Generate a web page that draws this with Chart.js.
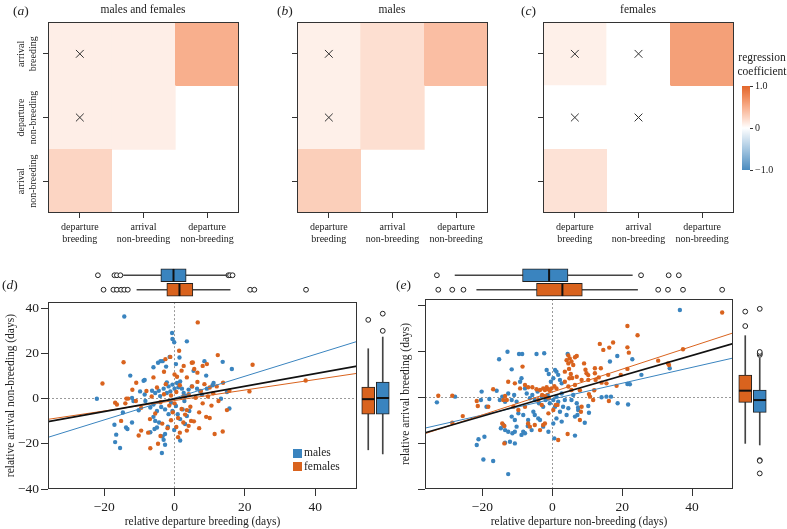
<!DOCTYPE html>
<html>
<head>
<meta charset="utf-8">
<script src="https://cdn.jsdelivr.net/npm/chart.js@4.4.1/dist/chart.umd.min.js"></script>
<style>
  body { margin: 0; background: #fff; }
  #fig { position: relative; width: 787px; height: 529px; overflow: hidden; font-family: "Liberation Serif", "DejaVu Serif", serif; color: #222; }
  #fig canvas { position: absolute; }
  .t { position: absolute; white-space: nowrap; line-height: 1; font-size: 11.5px; transform: translate(-50%, -50%); }
  .p { position: absolute; white-space: nowrap; line-height: 1; font-size: 13.5px; transform: translateY(-50%); }
  .sw { position: absolute; width: 9px; height: 9px; }
</style>
</head>
<body>
<div id="fig">
  <canvas id="heatA" width="243" height="250" style="left:0;top:0"></canvas>
  <canvas id="heatB" width="243" height="250" style="left:249px;top:0"></canvas>
  <canvas id="heatC" width="243" height="250" style="left:495px;top:0"></canvas>
  <canvas id="cbar" width="52" height="100" style="left:735px;top:78px"></canvas>
  <canvas id="scatD" width="362" height="237" style="left:0;top:292px"></canvas>
  <canvas id="scatE" width="339" height="237" style="left:399px;top:292px"></canvas>
  <canvas id="topD" width="309" height="29" style="left:48px;top:268px"></canvas>
  <canvas id="topE" width="308" height="29" style="left:425px;top:268px"></canvas>
  <canvas id="sideD" width="29" height="190" style="left:361px;top:299px"></canvas>
  <canvas id="sideE" width="29" height="190" style="left:738px;top:299px"></canvas>

  <div class="p" style="left:13px;top:11px">(<i>a</i>)</div>
  <div class="t" style="left:143px;top:10px">males and females</div>
  <div class="p" style="left:277px;top:11px">(<i>b</i>)</div>
  <div class="t" style="left:392px;top:10px">males</div>
  <div class="p" style="left:521px;top:11px">(<i>c</i>)</div>
  <div class="t" style="left:638px;top:10px">females</div>
  <div class="t" style="left:762px;top:58px">regression</div>
  <div class="t" style="left:762px;top:72px">coefficient</div>
  <div class="p" style="left:2px;top:285px">(<i>d</i>)</div>
  <div class="p" style="left:396px;top:285px">(<i>e</i>)</div>

  <div class="sw" style="left:293px;top:449px;background:#3a84bf"></div>
  <div class="p" style="left:304px;top:453px;font-size:11.5px">males</div>
  <div class="sw" style="left:293px;top:462px;background:#d9631e"></div>
  <div class="p" style="left:304px;top:467px;font-size:11.5px">females</div>
</div>

<script>
// ---------- heatmaps (a)-(c): rows top->bottom, columns left->right ----------
const rowLabels = [['arrival', 'breeding'], ['departure', 'non-breeding'], ['arrival', 'non-breeding']];
const colLabels = [['departure', 'breeding'], ['arrival', 'non-breeding'], ['departure', 'non-breeding']];
const coefBoth = [[0.10, 0.10, 0.50], [0.10, 0.10, null], [0.25, null, null]];
const coefMales = [[0.09, 0.19, 0.40], [0.09, 0.19, null], [0.29, null, null]];
const coefFemales = [[0.09, 0.00, 0.60], [0.00, 0.00, null], [0.17, null, null]];
// [row, col] of the cells marked with a cross
const nsBoth = [[0, 0], [1, 0]];
const nsMales = [[0, 0], [1, 0]];
const nsFemales = [[0, 0], [0, 1], [1, 0], [1, 1]];
const cbTicks = [-1, 0, 1];

// ---------- scatter (d): departure breeding vs arrival non-breeding ----------
const dMales = [
  [-14.3, 36.5], [-0.7, 29.2], [-0.6, 26.5], [-0.1, 25.1], [3.5, 25.5], [-1.4, 18.6], [1.4, 18.3], [-4.7, 16.0],
  [-4.0, 16.7], [-3.4, 16.7], [-6.0, 14.0], [-2.4, 14.3], [0.4, 15.4], [8.5, 16.7], [13.7, 16.4], [16.3, 13.2],
  [5.4, 12.4], [-12.6, 10.3], [-8.8, 8.0], [-8.5, 8.4], [-2.2, 7.3], [9.0, 10.3], [11.1, 7.0], [-22.1, 0.0],
  [-14.7, -6.1], [-17.1, -11.5], [-16.6, -15.9], [-16.9, -19.2], [-15.5, -21.8], [-13.8, -12.7], [-13.4, -13.4],
  [-12.1, -10.5], [-10.2, -5.1], [-6.0, -8.0], [-5.0, -12.7], [-4.4, -10.5], [-3.4, -16.7], [-3.1, -18.2],
  [-2.7, -20.4], [-3.6, -24.0], [1.6, -18.5], [-0.1, -13.8], [13.2, 0.0], [15.6, -4.3], [14.9, 3.0],
  [-12.1, 0.4], [-11.7, -1.0], [-8.5, 1.9], [-9.8, 3.3], [-6.4, 3.6], [-5.5, 2.6], [-4.5, 3.6], [-4.1, 1.2],
  [-3.1, 4.5], [-2.2, 2.6], [-1.7, 5.5], [-1.2, 3.3], [-0.6, 6.3], [0.0, 4.5], [0.7, 7.0], [1.1, 5.1], [1.6, 7.7],
  [2.1, 4.5], [2.6, 2.6], [3.0, 1.2], [4.0, 4.1], [4.9, 5.5], [6.4, 4.5], [7.3, 3.3], [7.8, 1.9], [9.2, 4.5],
  [10.8, 6.0], [-8.3, -1.0], [-6.9, -3.9], [-6.0, -2.5], [-5.0, -5.4], [-3.8, -3.6], [-2.7, -4.7], [-1.7, -6.8],
  [-1.0, -1.7], [-0.6, -5.4], [0.4, -3.2], [0.9, -6.8], [1.6, -9.0], [2.3, -4.7], [2.8, -1.0], [3.5, -7.6],
  [4.2, -5.4], [3.0, -11.2], [-1.9, -12.4], [-5.5, -9.8], [-6.9, -14.8], [-5.7, -13.4], [-2.7, -15.6]
];
const dFemales = [
  [6.6, 33.9], [-14.5, 16.2], [-20.5, 6.8], [1.3, 21.3], [-1.2, 18.6], [-2.6, 17.6], [4.9, 16.0], [2.6, 14.6],
  [12.3, 19.4], [8.0, 14.6], [-10.9, 7.1], [13.8, 7.1], [22.2, 15.1], [15.6, 3.6], [21.3, 3.3], [37.3, 8.1],
  [14.9, -5.0], [13.7, -14.5], [-13.7, 0.1], [-13.2, 0.1], [-16.9, -1.7], [-16.4, -2.5], [-15.2, -9.8],
  [-10.2, -16.3], [-9.5, -14.1], [-6.9, -21.9], [-4.7, -19.9], [4.0, -12.0], [4.7, -9.8], [3.5, -14.1],
  [11.4, -15.6], [0.0, 10.8], [0.7, 9.8], [5.2, 16.1], [5.6, 13.2], [9.2, 15.4], [6.5, 11.6], [2.0, 12.5],
  [-8.0, 3.5], [-6.5, 1.0], [-5.0, 5.0], [-4.0, -1.5], [-3.0, 2.0], [-2.5, 6.5], [-1.5, -3.0], [-1.0, 1.5],
  [-0.5, -6.0], [0.0, -2.0], [0.5, 3.0], [1.0, -8.5], [1.5, 6.0], [2.0, -4.5], [2.5, 1.0], [3.0, -7.0],
  [3.5, 9.5], [4.0, 2.0], [4.5, -3.5], [5.0, 5.5], [5.5, -10.0], [6.0, 0.5], [6.5, 7.5], [7.0, -6.0], [7.5, 3.5],
  [8.0, -2.0], [8.5, 6.5], [9.0, -8.0], [9.5, 1.0], [10.0, 5.0], [10.5, -3.0], [11.0, 2.5], [12.0, 5.5],
  [-9.5, -4.0], [-7.0, -9.0], [-5.5, -6.5], [-3.5, -11.0], [-2.0, -13.0], [-1.0, -9.5], [0.5, -12.5],
  [1.5, -15.0], [2.5, -10.5], [-11.0, -1.0], [-12.0, 4.0], [-6.0, 9.5], [-3.0, 12.0], [-7.5, -15.0],
  [-4.0, -16.5], [1.0, -17.0], [3.5, -5.0], [7.0, -13.0], [10.0, -8.5], [12.5, -1.0], [-14.0, -2.0]
];
// [intercept, slope]
const dFitAll = [-0.04, 0.280];
const dFitMales = [0.33, 0.484];
const dFitFemales = [-0.75, 0.232];

// ---------- scatter (e): departure non-breeding vs arrival breeding ----------
const eMales = [
  [-33.0, -2.2], [-27.8, 0.3], [-21.6, -20.8], [-21.1, -18.3], [-19.4, -17.2], [-19.7, -27.1], [-16.9, -27.8],
  [-12.6, -33.5], [-15.2, 16.6], [-12.8, 19.9], [-9.5, 18.9], [-8.6, 18.9], [-4.5, 18.9], [-2.3, 19.2],
  [-11.6, 12.2], [-15.9, 2.9], [-20.2, 2.5], [-20.4, -1.2], [-18.0, -0.7], [0.6, -17.9], [4.4, 18.9], [-18.8, -4.1],
  [36.5, 38.1], [18.6, 18.0], [16.5, 15.6], [22.9, 16.6], [25.5, 9.8], [33.6, 12.7], [21.5, 5.8], [22.2, 5.7],
  [18.7, -2.6], [21.7, -3.1], [15.5, 0.3], [14.1, 0.0], [16.8, 0.3], [10.3, -3.8], [10.5, -6.7], [9.3, -11.1],
  [6.5, -16.7], [7.4, -4.4], [7.2, -7.7],
  [-15.0, -1.2], [-14.3, 0.3], [-13.5, -1.9], [-12.6, 1.7], [-11.6, -1.2], [-10.9, 1.0], [-10.2, -1.9], [-9.2, 6.8],
  [-8.8, 8.3], [-7.8, 3.9], [-7.3, 1.7], [-6.4, -0.4], [-5.7, 1.0], [-5.0, -1.2], [-4.2, 2.5], [-3.8, -2.6],
  [-3.0, 0.3], [-2.6, -4.1], [-1.9, -1.2], [-1.3, 1.0], [-0.7, -2.6], [0.3, -1.2], [0.8, -4.1], [1.2, 0.3],
  [1.7, -1.9], [2.2, -6.3], [2.7, 1.7], [3.1, -4.1], [3.6, -1.2], [4.1, -7.7], [4.6, -4.8], [5.5, -1.2], [6.0, 1.0],
  [6.5, -8.4], [7.0, -2.6], [7.4, -5.5], [-1.6, 11.9], [-1.0, 10.2], [0.8, 11.9], [1.2, 11.2], [1.7, 9.8],
  [2.2, 7.6], [2.7, 6.1], [-0.4, 6.8], [0.3, 8.3],
  [-14.7, -13.5], [-14.0, -12.1], [-13.5, -14.3], [-12.6, -15.0], [-11.4, -15.7], [-10.7, -15.0], [-10.2, -12.8],
  [-8.8, -16.4], [-8.3, -15.0], [-13.5, -19.8], [-12.1, -19.4], [-10.7, -20.1], [-7.8, -15.7], [-6.9, -9.9],
  [-5.4, -6.3], [-5.0, -7.7], [-4.0, -9.2], [-3.5, -9.9], [-11.6, -8.4], [-10.7, -9.9], [-9.7, -7.0], [-8.3, -7.7],
  [-7.0, -12.5], [-5.9, -14.3], [-2.6, -12.8], [-1.1, -15.0], [0.3, -11.4], [1.2, -9.2], [2.7, -10.6]
];
const eFemales = [
  [-32.6, 0.7], [-28.6, 0.7], [-21.6, -1.6], [-21.3, -3.8], [-25.6, -8.2], [-28.6, -11.1], [-16.9, 3.5],
  [-18.3, -4.1], [-8.5, 13.4], [-14.3, -11.4], [-13.7, -12.5], [-13.7, -20.1], [1.7, -18.6], [3.6, 11.2],
  [4.4, -16.0], [4.1, 16.2], [4.6, 14.8], [5.0, 17.0], [5.5, 15.6], [6.0, 14.1], [4.6, 18.3], [4.8, 12.4],
  [5.3, 10.2], [5.7, 8.4], [6.5, 17.5],
  [48.6, 37.0], [21.5, 31.1], [24.4, 27.1], [13.6, 23.3], [17.4, 23.9], [16.3, 21.7], [14.6, 20.7], [21.5, 21.8],
  [21.9, 19.5], [30.3, 16.0], [37.4, 21.0], [33.1, 14.8], [33.4, 14.1], [21.5, 12.4], [9.1, 14.8], [9.5, 12.0],
  [9.8, 10.5], [10.3, 9.7], [12.2, 12.7], [13.9, 12.7], [7.0, 18.0], [16.0, 9.8], [19.6, 9.8], [12.2, 10.5],
  [13.3, 8.7], [8.4, 7.6], [10.3, 7.6], [12.4, 7.6], [14.1, 6.4], [15.5, 6.1], [18.4, 5.0], [7.9, 3.1], [10.5, 1.4],
  [12.0, 3.1], [10.8, 0.3], [16.2, -1.6], [8.4, -4.1], [8.2, -6.3], [7.9, -9.9], [11.7, -1.2],
  [-13.5, 0.6], [-13.0, -1.2], [-14.0, -1.2], [-7.8, 5.4], [-6.9, 4.4], [-5.7, 4.4], [-4.5, 3.5], [-3.5, 3.2],
  [-2.6, 3.9], [-2.1, 3.2], [-1.6, 4.4], [-1.1, 3.5], [-0.7, 2.9], [-0.2, 3.9], [0.6, 4.9], [1.2, 3.9], [-2.9, 1.0],
  [-1.9, 0.3], [-1.0, -0.4], [-6.9, -11.4], [-6.4, -12.8], [-5.0, -12.1], [-2.6, -12.1], [-2.1, -11.4],
  [0.3, -5.5], [1.0, -3.3], [1.5, -3.3], [-10.7, 6.1], [-9.2, 3.9], [-11.1, -4.1], [-9.7, -5.5], [-7.8, -4.1],
  [-12.6, 6.8], [-4.0, -1.2], [-3.0, -3.3], [-1.1, -7.0], [-3.5, -14.3], [3.6, 6.8], [4.6, 4.7], [5.5, 3.2],
  [6.5, 5.4], [7.0, 9.0], [4.9, 8.3]
];
const eFitAll = [0.6, 0.442];
const eFitMales = [-0.8, 0.347];
const eFitFemales = [2.3, 0.499];

// ---------- marginal box plots: [lower whisker, Q1, median, Q3, upper whisker] ----------
const boxLabelsTop = ['males', 'females'];
const boxLabelsSide = ['females', 'males'];
const dDepMales = [-14.5, -3.9, -0.3, 3.3, 14.9];
const dDepMalesOut = [-21.8, -17.1, -16.4, -15.4, 15.3, 15.8, 16.5];
const dDepFemales = [-10.7, -2.2, 1.4, 5.2, 15.8];
const dDepFemalesOut = [-20.2, -17.4, -16.4, -15.2, -14.3, -13.3, 21.5, 22.7, 37.4];
const dArrFemales = [-22.9, -7.3, -0.8, 4.5, 21.2];
const dArrFemalesOut = [33.8];
const dArrMales = [-24.7, -7.3, -0.3, 6.6, 26.3];
const dArrMalesOut = [29.0, 36.5];
const eDepMales = [-27.8, -8.5, -0.9, 4.5, 22.9];
const eDepMalesOut = [-33.0, 25.4, 33.3, 36.2];
const eDepFemales = [-21.6, -4.5, 2.9, 8.6, 24.4];
const eDepFemalesOut = [-32.6, -28.6, -25.4, 30.3, 33.1, 37.4, 48.6];
const eArrFemales = [-20.1, -2.2, 2.9, 9.7, 26.9];
const eArrFemalesOut = [31.1, 37.4];
const eArrMales = [-20.8, -6.6, -1.2, 3.2, 17.0];
const eArrMalesOut = [18.5, 19.1, 19.8, 38.6, -27.4, -27.7, -33.2];

const xTicks = [-20, 0, 20, 40];
const yTicks = [-40, -20, 0, 20, 40];
const dXLim = [-36.0, 51.9];
const eXLim = [-36.4, 51.7];
const yLim = [-40, 42.9];

// ---------- styling ----------
const serif = '"Liberation Serif", "DejaVu Serif", serif';
const ink = '#222';
const BLUE = '#3a84bf';
const ORANGE = '#d9631e';
const ramp = [[-1, [74, 139, 191]], [-0.5, [166, 199, 225]], [0, [255, 255, 255]], [0.25, [252, 213, 195]],
              [0.5, [248, 175, 141]], [0.75, [239, 137, 88]], [1, [226, 102, 43]]];

function coefColor(v) {
  for (let i = 1; i < ramp.length; i++) {
    const [v0, c0] = ramp[i - 1];
    const [v1, c1] = ramp[i];
    if (v <= v1) {
      const t = (v - v0) / (v1 - v0);
      return 'rgb(' + c0.map((c, k) => Math.round(c + (c1[k] - c) * t)).join(',') + ')';
    }
  }
  return 'rgb(' + ramp[ramp.length - 1][1].join(',') + ')';
}

const minus = v => v < 0 ? '\u2212' + Math.abs(v) : String(v);
const fixTicks = list => s => { s.ticks = list.map(value => ({ value })); };

const frame = {
  id: 'frame',
  afterDraw(chart) {
    const { ctx, chartArea: a } = chart;
    ctx.save();
    ctx.strokeStyle = '#333';
    ctx.lineWidth = 1;
    ctx.strokeRect(Math.round(a.left) + 0.5, Math.round(a.top) + 0.5, Math.round(a.right - a.left) - 1, Math.round(a.bottom - a.top) - 1);
    ctx.restore();
  }
};

const common = {
  responsive: false,
  animation: false,
  events: [],
  plugins: { legend: { display: false }, tooltip: { enabled: false } }
};
// padding is set by hand, so no automatic room for point overflow
const pad = (top, right, bottom, left) => ({ autoPadding: false, padding: { top, right, bottom, left } });

function heatmap(id, coefs, marks, showRows) {
  const cells = [];
  coefs.forEach((row, r) => row.forEach((v, c) => {
    if (v !== null) cells.push({ x: c + 0.5, y: [2 - r, 3 - r], v });
  }));
  new Chart(document.getElementById(id), {
    type: 'bar',
    data: {
      datasets: [
        { type: 'scatter', data: marks.map(([r, c]) => ({ x: c + 0.5, y: 2.5 - r })), pointStyle: 'crossRot',
          pointRadius: 5.5, pointBorderColor: '#333', pointBackgroundColor: '#333', pointBorderWidth: 1 },
        { data: cells, backgroundColor: c => c.raw ? coefColor(c.raw.v) : '#fff', borderWidth: 0,
          barPercentage: 1, categoryPercentage: 1 }
      ]
    },
    options: {
      ...common,
      layout: pad(22, 4, 0, 0),
      scales: {
        x: {
          type: 'linear', min: 0, max: 3, offset: false,
          afterBuildTicks: fixTicks([0.5, 1.5, 2.5]),
          afterFit: s => { s.height = 37; },
          grid: { drawOnChartArea: false, offset: false, tickLength: 5, tickColor: '#333' },
          border: { display: false },
          ticks: { font: { family: serif, size: 10 }, color: ink, padding: 3, maxRotation: 0, autoSkip: false,
                   callback: v => colLabels[Math.round(v - 0.5)] }
        },
        y: {
          type: 'linear', min: 0, max: 3,
          afterBuildTicks: fixTicks([0.5, 1.5, 2.5]),
          afterFit: s => { s.width = 48; },
          grid: { drawOnChartArea: false, tickLength: 5, tickColor: '#333' },
          border: { display: false },
          ticks: { display: showRows, font: { family: serif, size: 10 }, color: ink, minRotation: 90, maxRotation: 90,
                   crossAlign: 'center', padding: -11, callback: v => rowLabels[Math.round(2.5 - v)] }
        }
      }
    },
    plugins: [frame]
  });
}

heatmap('heatA', coefBoth, nsBoth, true);
heatmap('heatB', coefMales, nsMales, false);
heatmap('heatC', coefFemales, nsFemales, false);

new Chart(document.getElementById('cbar'), {
  type: 'bar',
  data: {
    labels: [''],
    datasets: [{
      data: [[cbTicks[0], cbTicks[2]]],
      backgroundColor: c => {
        const a = c.chart.chartArea;
        if (!a) return '#fff';
        const g = c.chart.ctx.createLinearGradient(0, a.bottom, 0, a.top);
        ramp.forEach(([v, col]) => g.addColorStop((v + 1) / 2, 'rgb(' + col.join(',') + ')'));
        return g;
      },
      borderWidth: 0, barPercentage: 1, categoryPercentage: 1
    }]
  },
  options: {
    ...common,
    layout: pad(7, 0, 6, 7),
    scales: {
      x: { display: false },
      y: {
        position: 'right', min: -1, max: 1,
        afterBuildTicks: fixTicks(cbTicks),
        afterFit: s => { s.width = 37; },
        grid: { drawOnChartArea: false, tickLength: 3, tickColor: '#333' },
        border: { display: false },
        ticks: { padding: 2, font: { family: serif, size: 10 }, color: ink,
                 callback: v => v === 0 ? '0' : (v < 0 ? '\u2212' : '') + Math.abs(v).toFixed(1) }
      }
    }
  }
});

function scatterPanel(id, males, females, fits, xLim, yTitle, xTitle, showYLabels, yWidth, yTitlePad) {
  const fitLine = fit => xLim.map(x => ({ x, y: fit[0] + fit[1] * x }));
  const pts = arr => arr.map(([x, y]) => ({ x, y }));
  const zeroGrid = c => (c.tick && c.tick.value === 0) ? '#9a9a9a' : 'rgba(0,0,0,0)';
  new Chart(document.getElementById(id), {
    type: 'scatter',
    data: {
      datasets: [
        { type: 'line', data: fitLine(fits[0]), borderColor: '#111', borderWidth: 1.6, pointRadius: 0 },
        { type: 'line', data: fitLine(fits[2]), borderColor: ORANGE, borderWidth: 1, pointRadius: 0 },
        { type: 'line', data: fitLine(fits[1]), borderColor: BLUE, borderWidth: 1, pointRadius: 0 },
        { data: pts(females), pointRadius: 2.2, pointBackgroundColor: ORANGE, pointBorderWidth: 0 },
        { data: pts(males), pointRadius: 2.2, pointBackgroundColor: BLUE, pointBorderWidth: 0 }
      ]
    },
    options: {
      ...common,
      layout: pad(7, 5, 0, 0),
      scales: {
        x: {
          type: 'linear', min: xLim[0], max: xLim[1],
          afterBuildTicks: fixTicks(xTicks),
          afterFit: s => { s.height = 40; },
          grid: { color: zeroGrid, tickColor: '#333', tickLength: 7, tickWidth: 1 },
          border: { display: false, dash: [2, 2] },
          ticks: { font: { family: serif, size: 13.5 }, color: ink, padding: 3, maxRotation: 0, autoSkip: false, callback: minus },
          title: { display: true, text: xTitle, color: ink, font: { family: serif, size: 11.5 }, padding: { top: 0, bottom: 0 } }
        },
        y: {
          type: 'linear', min: yLim[0], max: yLim[1],
          afterBuildTicks: fixTicks(yTicks),
          afterFit: s => { s.width = yWidth; },
          grid: { color: zeroGrid, tickColor: '#333', tickLength: 7, tickWidth: 1 },
          border: { display: false, dash: [2, 2] },
          ticks: { display: showYLabels, font: { family: serif, size: 13.5 }, color: ink, padding: 2, callback: minus },
          title: { display: true, text: yTitle, color: ink, font: { family: serif, size: 11.5 }, padding: { top: yTitlePad, bottom: 0 } }
        }
      }
    },
    plugins: [frame]
  });
}

scatterPanel('scatD', dMales, dFemales, [dFitAll, dFitMales, dFitFemales], dXLim,
  'relative arrival non-breeding (days)', 'relative departure breeding (days)', true, 48, 4);
scatterPanel('scatE', eMales, eFemales, [eFitAll, eFitMales, eFitFemales], eXLim,
  'relative arrival breeding (days)', 'relative departure non-breeding (days)', false, 26, 0);

// each group sits at slot index + 0.5 on a 0..2 axis
function boxDatasets(stats, outs, cats, horizontal) {
  const at = (v, i) => horizontal ? { x: v, y: i + 0.5 } : { x: i + 0.5, y: v };
  const outliers = [];
  outs.forEach((list, i) => list.forEach(v => outliers.push(at(v, i))));
  return [
    { type: 'scatter', data: stats.map((s, i) => at(s[2], i)), pointStyle: 'line', pointRotation: horizontal ? 90 : 0,
      pointRadius: 6.3, pointBorderColor: '#111', pointBorderWidth: 2, clip: false },
    { type: 'bar', indexAxis: horizontal ? 'y' : 'x', data: stats.map((s, i) => at([s[1], s[3]], i)),
      backgroundColor: cats.map(c => c === 'males' ? BLUE : ORANGE), borderColor: '#222', borderWidth: 1,
      borderSkipped: false, barThickness: 13, grouped: false },
    { type: 'bar', indexAxis: horizontal ? 'y' : 'x', data: stats.map((s, i) => at([s[0], s[4]], i)),
      backgroundColor: '#444', barThickness: 1, grouped: false },
    { type: 'scatter', data: outliers, pointRadius: 2.4, pointBackgroundColor: '#fff', pointBorderColor: '#222',
      pointBorderWidth: 1, clip: false }
  ];
}

function topBoxes(id, stats, outs, xLim) {
  new Chart(document.getElementById(id), {
    type: 'bar',
    data: { datasets: boxDatasets(stats, outs, boxLabelsTop, true) },
    options: {
      ...common,
      layout: pad(0, 0, 0, 0),
      scales: {
        x: { type: 'linear', min: xLim[0], max: xLim[1], offset: false, display: false },
        y: { type: 'linear', min: 0, max: boxLabelsTop.length, reverse: true, offset: false, display: false }
      }
    }
  });
}

function sideBoxes(id, stats, outs) {
  new Chart(document.getElementById(id), {
    type: 'bar',
    data: { datasets: boxDatasets(stats, outs, boxLabelsSide, false) },
    options: {
      ...common,
      layout: pad(0, 0, 0, 0),
      scales: {
        x: { type: 'linear', min: 0, max: boxLabelsSide.length, offset: false, display: false },
        y: { type: 'linear', min: yLim[0], max: yLim[1], display: false }
      }
    }
  });
}

topBoxes('topD', [dDepMales, dDepFemales], [dDepMalesOut, dDepFemalesOut], dXLim);
topBoxes('topE', [eDepMales, eDepFemales], [eDepMalesOut, eDepFemalesOut], eXLim);
sideBoxes('sideD', [dArrFemales, dArrMales], [dArrFemalesOut, dArrMalesOut]);
sideBoxes('sideE', [eArrFemales, eArrMales], [eArrFemalesOut, eArrMalesOut]);
</script>
</body>
</html>
